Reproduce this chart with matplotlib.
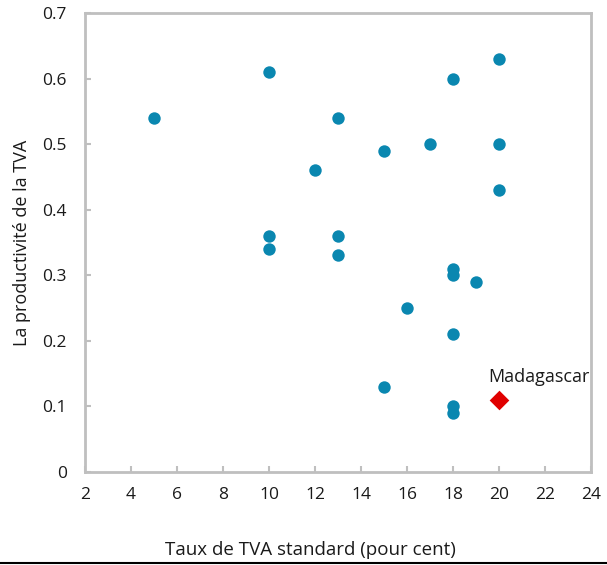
import matplotlib
matplotlib.use("Agg")
import matplotlib.pyplot as plt
from matplotlib.lines import Line2D

plt.rcParams['font.family'] = ['Open Sans', 'DejaVu Sans']

# standard VAT rate (%) and VAT productivity, comparator countries
taux = [5, 10, 10, 10, 12, 13, 13, 13, 15, 15, 16, 17, 18, 18, 18, 18, 18, 18, 19, 20, 20, 20]
productivite = [0.54, 0.61, 0.36, 0.34, 0.46, 0.54, 0.36, 0.33, 0.49, 0.13, 0.25, 0.50,
                0.60, 0.31, 0.30, 0.21, 0.10, 0.09, 0.29, 0.63, 0.50, 0.43]

# Madagascar
mdg_taux = 20
mdg_prod = 0.11

fig = plt.figure(figsize=(6.07, 5.65), dpi=100)
ax = fig.add_axes([0.140, 0.165, 0.834, 0.812])

ax.scatter(taux, productivite, s=80, color='#0a87b0', zorder=3, linewidths=0)
ax.scatter([mdg_taux], [mdg_prod], s=100, marker='D', color='#e00000', zorder=3, linewidths=0)
ax.annotate("Madagascar", (mdg_taux, mdg_prod), xytext=(-8, 13), textcoords='offset points',
            fontsize=13, color='#1a1a1a', va='baseline')

ax.set_xlim(2, 24)
ax.set_ylim(0, 0.7)
ax.set_xticks(range(2, 25, 2))
ax.set_yticks([0, 0.1, 0.2, 0.3, 0.4, 0.5, 0.6, 0.7])
ax.set_yticklabels(['0', '0.1', '0.2', '0.3', '0.4', '0.5', '0.6', '0.7'])
ax.tick_params(direction='in', length=4, width=1.5, color='#bfbfbf', labelsize=12.5,
               labelcolor='#1a1a1a')
ax.tick_params(axis='y', pad=13)
ax.tick_params(axis='x', pad=11)
for s in ax.spines.values():
    s.set_color('#bfbfbf')
    s.set_linewidth(2)

ax.set_ylabel("La productivité de la TVA", fontsize=13, color='#1a1a1a', labelpad=8)
fig.text(0.512, 0.027, "Taux de TVA standard (pour cent)", ha='center', va='center',
         fontsize=13.5, color='#1a1a1a')

fig.add_artist(Line2D([0, 1], [0.003, 0.003], color='black', linewidth=1.5,
                      transform=fig.transFigure))

fig.savefig("out.png", dpi=100)
